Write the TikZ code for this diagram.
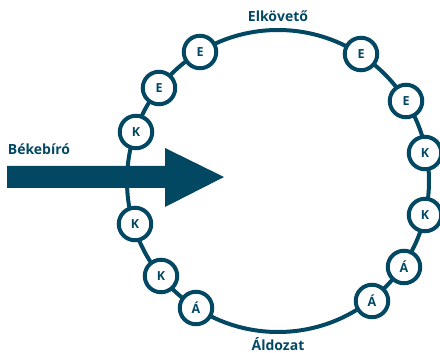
\documentclass[tikz,border=0pt]{standalone}
\usepackage{fontspec}
\setmainfont{Open Sans}
\definecolor{teal}{HTML}{024862}
\begin{document}
\begin{tikzpicture}[x=1pt,y=-1pt,
  lbl/.style={text=teal,font=\bfseries\fontsize{14}{16}\selectfont,inner sep=0pt},
  bead/.style={circle,draw=teal,line width=4pt,fill=white,minimum size=32.5pt,inner sep=0pt,
    text=teal,font=\bfseries\fontsize{12.5}{14}\selectfont}]
\useasboundingbox (0,0) rectangle (440,353);
\coordinate (c) at (278,181);
\draw[teal,line width=4pt] (c) circle[radius=151];
\node[bead] (e1) at (200,52) {E};
\node[bead] (e2) at (159,88) {E};
\node[bead] (k1) at (136,132) {K};
\node[bead] (k2) at (135,224) {K};
\node[bead] (k3) at (161,276) {K};
\node[bead] (a1) at (196,308) {Á};
\node[bead] (e3) at (361,54) {E};
\node[bead] (e4) at (406,101) {E};
\node[bead] (k4) at (425,153) {K};
\node[bead] (k5) at (425,215) {K};
\node[bead] (a2) at (404,267) {Á};
\node[bead] (a3) at (372,301) {Á};
\fill[teal] (7,166) -- (165,166) -- (165,148) -- (224,177) -- (165,207) -- (165,188) -- (7,188) -- cycle;
\node[lbl] (elk) at (278,16) {Elkövető};
\node[lbl] (ald) at (278,344) {Áldozat};
\node[lbl] (bek) at (39,149) {Békebíró};
\end{tikzpicture}
\end{document}
